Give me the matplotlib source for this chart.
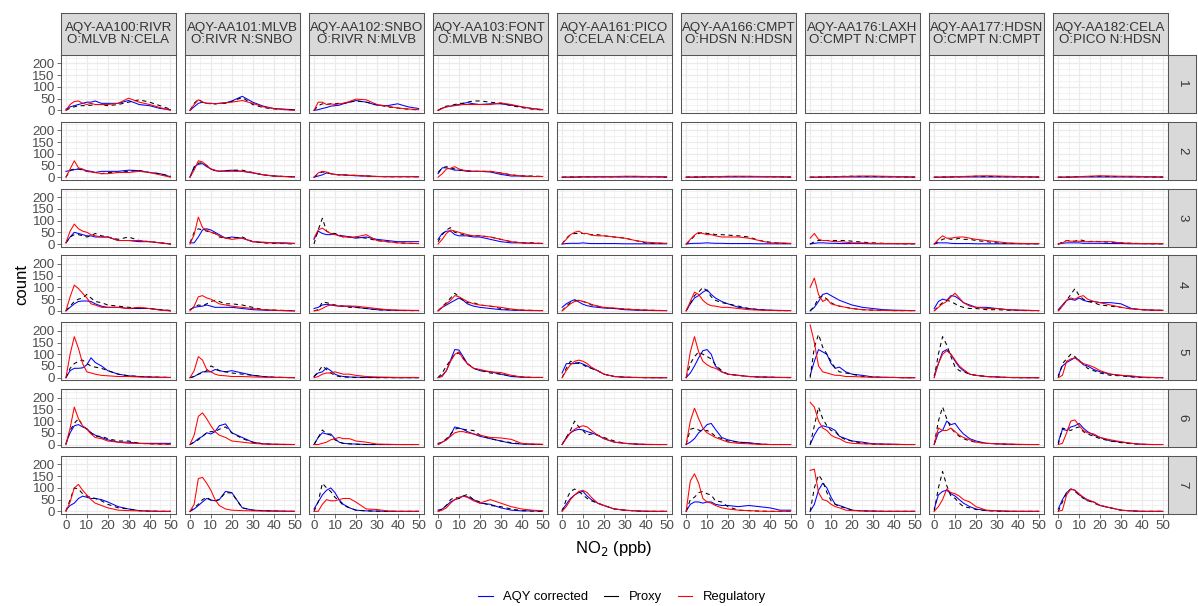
import matplotlib
matplotlib.use("Agg")
import matplotlib.pyplot as plt
from matplotlib.lines import Line2D

plt.rcParams['font.family'] = ['Liberation Sans', 'DejaVu Sans']

# --- data ---
no2_ppb = [0, 2, 4, 6, 8, 10, 12, 14, 17, 20, 25, 30, 35, 40, 45, 50]

sensors = ["AQY-AA100:RIVR\nO:MLVB N:CELA", "AQY-AA101:MLVB\nO:RIVR N:SNBO",
           "AQY-AA102:SNBO\nO:RIVR N:MLVB", "AQY-AA103:FONT\nO:MLVB N:SNBO",
           "AQY-AA161:PICO\nO:CELA N:CELA", "AQY-AA166:CMPT\nO:HDSN N:HDSN",
           "AQY-AA176:LAXH\nO:CMPT N:CMPT", "AQY-AA177:HDSN\nO:CMPT N:CMPT",
           "AQY-AA182:CELA\nO:PICO N:HDSN"]
row_labels = ["1", "2", "3", "4", "5", "6", "7"]

# row 1
aqy_r1 = [[5,15,20,25,30,35,35,40,30,30,30,42,25,20,8,3],
          [0,15,30,35,30,30,28,30,32,40,60,35,18,8,5,3],
          [0,3,8,12,18,20,22,28,35,42,35,22,20,28,15,8],
          [0,10,15,18,22,25,30,33,28,25,28,28,22,15,8,3],
          None, None, None, None, None]
proxy_r1 = [[0,10,15,20,20,20,22,25,25,20,25,35,45,35,20,5],
            [0,30,48,35,30,28,28,30,30,38,55,25,12,6,4,2],
            [0,20,28,25,28,28,30,30,35,40,35,25,15,10,5,2],
            [0,10,18,20,25,30,30,35,40,40,35,30,20,12,5,2],
            None, None, None, None, None]
reg_r1 = [[0,25,38,40,30,25,30,25,25,25,30,52,35,25,12,0],
          [0,25,45,35,30,30,28,30,32,35,42,30,15,8,3,0],
          [0,35,35,25,28,25,28,30,38,48,45,25,18,10,6,3],
          [0,8,15,18,20,22,25,25,25,25,25,32,25,15,8,3],
          None, None, None, None, None]

# row 2
aqy_r2 = [[25,28,32,35,32,28,25,20,25,25,25,30,28,20,15,2],
          [0,45,55,58,45,35,28,25,28,30,25,18,10,5,3,2],
          [0,5,10,18,15,12,10,10,8,6,5,3,2,2,2,2],
          [15,40,40,35,30,30,28,25,25,25,22,12,5,5,3,3],
          [0,0,0,0,1,1,1,1,1,1,1,1,1,1,1,0],
          [0,0,0,0,1,1,1,1,1,1,1,1,1,1,1,0],
          [0,0,0,0,1,1,1,1,1,1,1,1,1,1,1,0],
          [0,0,0,0,1,1,1,1,1,1,1,1,1,1,1,0],
          [0,0,0,0,1,1,1,1,1,1,1,1,1,1,1,0]]
proxy_r2 = [[0,30,35,35,30,25,22,20,15,20,20,25,28,20,15,5],
            [0,40,60,62,50,35,28,25,25,30,30,20,10,5,3,2],
            [0,15,22,20,15,12,10,10,8,8,5,3,2,2,2,2],
            [20,40,45,40,35,30,30,28,25,25,25,18,10,5,5,3],
            [0,1,1,1,1,2,2,2,2,2,2,3,3,2,2,1],
            [0,1,1,1,1,2,2,2,2,3,3,3,3,2,2,1],
            [0,0,1,1,1,2,2,3,4,4,3,3,2,2,1,1],
            [0,0,1,1,1,2,2,3,3,4,3,3,2,2,1,1],
            [0,0,1,1,2,2,3,3,3,4,3,3,2,2,1,1]]
reg_r2 = [[0,35,70,40,35,25,22,20,15,15,20,20,25,20,10,0],
          [0,30,70,65,50,35,30,25,25,25,25,20,10,5,3,0],
          [0,18,25,22,15,12,10,10,8,8,5,3,3,3,3,2],
          [0,15,35,38,45,35,30,28,25,25,25,18,10,5,3,3],
          [0,0,1,1,1,2,2,2,3,3,3,4,4,3,3,2],
          [0,0,1,1,2,2,2,3,3,4,4,4,3,3,2,1],
          [0,0,0,1,1,1,2,2,3,4,5,5,4,3,2,1],
          [0,0,1,1,2,2,3,3,4,5,6,5,4,3,2,1],
          [0,0,1,1,2,2,3,4,5,6,5,4,4,3,2,1]]

# row 3
aqy_r3 = [[5,30,50,45,40,35,35,30,30,30,15,15,10,10,5,0],
          [5,5,30,60,65,60,50,40,25,30,25,10,6,5,5,3],
          [20,55,45,40,40,45,35,35,30,25,30,20,15,10,10,10],
          [20,45,55,55,40,35,35,35,30,30,20,10,5,5,3,2],
          [0,2,3,3,3,5,3,2,2,2,2,1,1,1,1,1],
          [0,2,3,3,4,5,4,3,3,2,2,2,1,1,1,1],
          [0,3,5,5,4,3,3,2,2,2,2,1,1,1,1,1],
          [0,5,5,5,3,2,2,2,2,1,1,1,1,1,1,1],
          [0,3,5,5,5,5,3,3,3,3,2,2,1,1,1,1]]
proxy_r3 = [[5,30,40,40,35,30,35,45,35,30,20,30,15,10,5,0],
            [5,50,65,60,55,50,45,30,25,25,30,10,5,3,2,0],
            [0,60,110,55,45,45,40,30,30,30,25,15,10,5,3,2],
            [10,40,60,70,50,45,40,35,35,35,30,20,10,5,5,2],
            [0,25,40,45,45,45,42,40,40,35,30,25,15,5,3,3],
            [0,15,35,45,50,45,45,40,40,38,35,30,15,8,3,2],
            [0,10,15,15,15,15,15,15,15,12,8,5,3,2,1,1],
            [0,10,20,25,20,20,25,20,20,15,10,5,3,2,1,1],
            [0,8,15,12,12,18,15,10,12,10,8,5,3,2,1,1]]
reg_r3 = [[5,55,85,65,55,50,40,35,30,30,15,15,15,10,5,0],
          [0,40,115,70,60,50,45,35,25,20,25,10,8,5,3,2],
          [25,60,68,55,45,40,35,30,30,30,40,15,10,5,3,2],
          [0,20,45,60,55,50,45,40,35,35,30,20,10,5,3,3],
          [0,20,40,50,55,45,45,38,35,35,30,25,15,8,5,3],
          [0,20,38,50,45,40,40,35,30,30,30,25,15,5,5,3],
          [25,45,20,15,15,12,10,10,8,5,5,3,2,2,2,2],
          [0,20,35,25,25,28,30,30,25,20,15,10,5,3,2,2],
          [0,5,15,12,12,12,10,10,10,10,10,5,3,2,2,2]]

# row 4
aqy_r4 = [[0,15,30,40,42,42,40,30,20,15,15,10,10,10,5,0],
          [5,15,18,20,25,20,15,15,15,15,10,5,3,2,1,0],
          [10,15,25,28,25,22,20,20,20,15,10,5,3,2,2,1],
          [0,15,25,35,45,55,45,30,20,15,10,5,3,2,1,1],
          [15,30,40,48,38,28,22,18,15,12,10,5,3,2,1,1],
          [0,30,55,65,80,90,70,55,40,30,15,10,5,3,2,1],
          [0,15,40,70,75,65,55,45,35,25,15,10,5,3,2,1],
          [10,40,50,45,65,62,50,35,25,15,15,10,5,3,2,1],
          [5,25,45,50,45,55,45,40,40,35,35,30,10,5,3,2]]
proxy_r4 = [[0,20,40,50,55,70,55,40,35,25,20,15,12,10,5,2],
            [5,15,25,22,30,40,45,40,30,30,25,15,5,3,2,1],
            [0,5,38,35,30,25,22,20,15,15,10,5,3,2,1,1],
            [0,18,35,55,75,60,45,35,35,25,20,10,5,3,2,1],
            [0,20,35,42,45,40,35,25,20,15,10,8,5,3,2,1],
            [0,30,65,80,100,85,60,45,35,30,20,10,5,2,1,1],
            [0,20,55,65,50,35,25,20,15,10,5,3,2,1,1,1],
            [0,20,35,45,40,30,20,15,10,10,5,5,3,2,1,1],
            [0,20,45,70,95,65,50,40,35,25,20,15,8,5,3,2]]
reg_r4 = [[0,60,110,95,75,55,30,25,15,15,15,10,15,10,3,0],
          [0,20,60,65,55,50,40,30,25,20,15,10,5,3,1,0],
          [0,2,10,20,25,25,20,20,20,20,15,10,5,3,2,2],
          [0,15,30,45,65,60,50,40,30,25,20,15,8,3,2,1],
          [0,15,30,40,45,40,35,28,20,15,12,8,5,3,2,1],
          [0,40,80,70,45,30,22,20,15,15,10,5,3,2,1,1],
          [100,140,70,40,50,30,25,20,15,10,5,3,2,1,1,1],
          [0,15,30,40,60,75,55,35,20,15,10,10,5,3,2,1],
          [0,20,45,55,50,60,65,50,40,35,25,15,8,5,3,2]]

# row 5
aqy_r5 = [[0,30,40,40,42,55,85,65,50,30,15,8,5,3,2,1],
          [0,5,15,25,25,25,35,30,25,30,20,10,5,2,1,0],
          [5,20,25,42,30,15,8,5,3,2,1,1,1,0,0,0],
          [0,10,30,75,120,118,90,60,40,30,25,15,5,2,1,1],
          [20,60,60,60,65,58,50,40,30,15,5,2,1,0,0,0],
          [0,20,50,85,115,120,100,50,25,15,10,5,3,2,1,1],
          [10,70,120,110,100,60,40,45,25,15,10,3,2,1,0,0],
          [10,60,110,120,100,70,45,30,15,10,5,3,1,0,0,0],
          [10,50,65,75,85,75,55,50,35,25,15,10,5,2,1,0]]
proxy_r5 = [[0,40,60,70,75,60,50,45,40,30,15,8,5,3,2,1],
            [0,5,15,20,30,50,42,30,25,20,15,10,5,2,1,0],
            [5,25,50,35,20,10,5,3,2,1,1,0,0,0,0,0],
            [0,20,50,75,100,105,85,60,40,32,20,15,8,3,1,1],
            [0,40,70,65,60,55,45,40,30,15,5,2,1,0,0,0],
            [0,60,90,110,100,90,80,55,30,15,10,5,3,2,1,0],
            [0,130,185,130,100,70,40,25,20,15,5,3,1,1,0,0],
            [0,100,175,140,90,45,30,25,15,10,5,3,1,0,0,0],
            [0,60,80,100,90,70,60,40,30,20,10,8,3,1,0,0]]
reg_r5 = [[0,100,175,125,60,25,20,15,10,8,5,5,3,2,1,1],
          [0,30,90,75,35,25,15,10,8,5,5,3,2,1,1,0],
          [0,5,15,20,20,25,20,15,15,10,5,3,2,1,1,1],
          [0,5,30,70,100,110,80,60,40,35,25,22,10,3,1,1],
          [0,30,55,70,75,70,60,45,30,15,5,2,1,1,0,0],
          [0,110,175,110,70,55,45,40,25,15,10,5,3,2,1,1],
          [225,150,50,25,20,15,10,10,5,5,3,2,1,1,0,0],
          [0,60,100,115,100,75,50,35,15,10,5,3,1,1,0,0],
          [0,10,70,80,85,70,60,55,45,30,15,10,8,2,1,0]]

# row 6
aqy_r6 = [[5,50,80,85,75,68,50,40,30,20,10,10,5,5,5,5],
          [0,10,25,35,50,45,55,80,88,50,30,10,3,1,0,0],
          [0,30,50,45,45,25,10,5,3,2,0,0,0,0,0,0],
          [5,10,20,40,75,70,65,55,45,35,25,15,5,2,1,0],
          [0,30,50,60,65,62,55,50,40,25,10,5,2,0,0,0],
          [0,10,25,50,65,85,90,65,30,20,10,8,2,0,0,0],
          [0,40,70,80,75,70,60,35,25,15,10,3,2,1,0,0],
          [0,50,60,100,85,90,65,45,25,15,5,3,1,0,0,0],
          [10,65,60,75,80,90,70,55,40,30,15,10,5,1,0,0]]
proxy_r6 = [[0,60,90,110,80,65,50,35,35,25,15,15,5,3,2,1],
            [0,10,20,35,50,55,55,65,75,50,25,10,3,1,0,0],
            [0,30,62,45,40,20,10,5,3,1,0,0,0,0,0,0],
            [0,10,25,45,65,70,65,62,60,40,25,15,8,3,1,0],
            [0,30,60,100,75,60,40,45,40,30,15,5,2,0,0,0],
            [0,65,70,62,55,60,50,35,25,15,10,5,2,0,0,0],
            [0,80,160,110,80,60,55,35,20,15,5,2,1,0,0,0],
            [0,100,160,110,70,50,35,25,15,10,5,3,1,0,0,0],
            [0,70,65,60,70,75,55,45,35,25,15,8,3,1,0,0]]
reg_r6 = [[0,70,160,110,80,65,45,30,25,15,10,5,5,3,2,1],
          [0,40,120,135,110,80,55,40,30,15,10,5,2,1,1,0],
          [0,0,5,10,20,25,30,25,25,15,10,2,1,0,0,0],
          [0,10,20,35,50,55,55,50,45,40,30,28,22,5,2,1],
          [0,25,50,65,75,80,75,60,40,25,10,5,2,1,0,0],
          [0,100,155,110,70,50,40,30,20,10,5,3,1,0,0,0],
          [180,160,100,70,60,40,30,25,10,5,3,2,1,1,0,0],
          [0,70,60,60,70,55,40,30,20,10,5,3,2,1,0,0],
          [0,5,50,100,105,80,60,50,45,30,20,12,5,1,0,0]]

# row 7
aqy_r7 = [[5,25,35,55,65,60,55,55,50,40,20,10,3,1,0,0],
          [0,10,25,40,55,48,45,50,85,80,15,5,3,2,1,0],
          [10,40,70,90,100,80,50,30,15,5,2,1,0,0,0,0],
          [5,10,25,40,50,55,65,62,50,35,30,15,5,2,2,1],
          [5,30,55,70,80,85,65,50,35,25,10,5,2,0,0,0],
          [0,30,40,40,35,40,40,30,25,25,20,25,20,15,5,5],
          [0,30,90,120,100,60,30,25,15,5,2,1,0,0,0,0],
          [10,70,85,90,75,65,50,35,20,10,3,2,0,0,0,0],
          [10,50,80,95,90,70,60,45,40,25,15,5,2,0,0,0]]
proxy_r7 = [[0,50,100,95,75,65,60,55,45,30,15,10,3,1,0,0],
            [0,15,30,50,60,48,45,50,80,78,15,5,3,1,0,0],
            [0,40,120,100,85,60,45,25,15,5,2,1,0,0,0,0],
            [0,10,25,50,60,55,65,72,50,40,25,20,10,3,1,0],
            [0,50,85,95,85,70,55,45,35,25,10,5,2,0,0,0],
            [0,50,60,80,85,75,70,45,40,20,5,3,1,0,0,0],
            [0,100,155,130,80,45,30,20,15,5,2,1,0,0,0,0],
            [0,100,170,110,65,55,35,20,15,8,3,1,0,0,0,0],
            [0,40,80,95,85,70,55,50,35,25,15,5,2,0,0,0]]
reg_r7 = [[0,40,100,115,90,70,50,35,25,15,5,3,2,1,0,0],
          [0,30,140,145,120,90,50,25,10,5,3,2,1,0,0,0],
          [0,0,30,50,45,45,50,55,55,40,10,8,2,0,0,0],
          [0,5,15,35,50,60,65,60,45,35,50,35,20,10,5,3],
          [0,20,50,70,85,90,80,60,35,25,10,5,2,1,0,0],
          [0,130,160,120,55,40,35,25,15,10,5,3,1,0,0,0],
          [175,180,80,50,45,30,20,15,5,3,2,1,0,0,0,0],
          [0,20,50,95,80,75,65,50,40,20,5,3,1,0,0,0],
          [0,5,70,95,90,75,60,50,40,25,15,5,2,0,0,0]]

aqy = [aqy_r1, aqy_r2, aqy_r3, aqy_r4, aqy_r5, aqy_r6, aqy_r7]
proxy = [proxy_r1, proxy_r2, proxy_r3, proxy_r4, proxy_r5, proxy_r6, proxy_r7]
reg = [reg_r1, reg_r2, reg_r3, reg_r4, reg_r5, reg_r6, reg_r7]

series = [("AQY corrected", aqy, "blue", "-"),
          ("Proxy", proxy, "black", (0, (4, 3.5))),
          ("Regulatory", reg, "red", "-")]

# --- layout (pixels) ---
W, H = 1198, 606
def box(x, y, w, h):
    return [x / W, 1 - (y + h) / H, w / W, h / H]

x0, dx, pw = 60.7, 124.04, 115
y0, dy, ph = 55, 66.83, 58
edge = "#555555"
grid = "#EBEBEB"

fig = plt.figure(figsize=(W / 100, H / 100), dpi=100)

for i in range(7):
    for j in range(9):
        ax = fig.add_axes(box(x0 + dx * j, y0 + dy * i, pw, ph))
        for name, data, col, ls in series:
            vals = data[i][j]
            if vals is not None:
                ax.plot(no2_ppb, vals, color=col, ls=ls, lw=0.75)
        ax.set_xlim(-2.5, 52.5)
        ax.set_ylim(-11.25, 236.25)
        ax.set_xticks([0, 10, 20, 30, 40, 50])
        ax.set_xticks([5, 15, 25, 35, 45], minor=True)
        ax.set_yticks([0, 50, 100, 150, 200])
        ax.set_yticks([25, 75, 125, 175, 225], minor=True)
        ax.grid(True, which="major", color=grid, lw=0.9)
        ax.grid(True, which="minor", color=grid, lw=0.45)
        ax.set_axisbelow(True)
        for s in ax.spines.values():
            s.set_color(edge)
            s.set_linewidth(0.75)
        ax.tick_params(which="minor", length=0)
        ax.tick_params(which="major", length=2.75, width=0.6, color=edge,
                       labelsize=9.6, labelcolor="#4D4D4D", pad=1.5)
        if j != 0:
            ax.tick_params(axis="y", left=False, labelleft=False)
        if i != 6:
            ax.tick_params(axis="x", bottom=False, labelbottom=False)

        if i == 0:
            sx = fig.add_axes(box(x0 + dx * j, 13, pw, 42))
            sx.set_facecolor("#D9D9D9")
            sx.set_xticks([]); sx.set_yticks([])
            for s in sx.spines.values():
                s.set_color(edge); s.set_linewidth(0.75)
            sx.text(0.5, 0.5, sensors[j], ha="center", va="center",
                    fontsize=9.6, color="#333333", linespacing=1.0,
                    transform=sx.transAxes)
        if j == 8:
            sy = fig.add_axes(box(x0 + dx * j + pw, y0 + dy * i, 28, ph))
            sy.set_facecolor("#D9D9D9")
            sy.set_xticks([]); sy.set_yticks([])
            for s in sy.spines.values():
                s.set_color(edge); s.set_linewidth(0.75)
            sy.text(0.5, 0.5, row_labels[i], ha="center", va="center",
                    fontsize=9.6, color="#333333", rotation=-90,
                    transform=sy.transAxes)

fig.text(614 / W, 1 - 549 / H, "NO$_2$ (ppb)", ha="center", va="center",
         fontsize=12)
fig.text(22 / W, 1 - 284.5 / H, "count", ha="center", va="center",
         fontsize=12, rotation=90)

handles = [Line2D([], [], color=c, lw=0.8) for _, _, c, _ in series]
fig.legend(handles, [s[0] for s in series], loc="center",
           bbox_to_anchor=(622 / W, 1 - 597 / H), ncol=3, frameon=False,
           fontsize=9.4, handlelength=1.1, handletextpad=0.8,
           columnspacing=1.2)

fig.savefig("out.png", dpi=100)
